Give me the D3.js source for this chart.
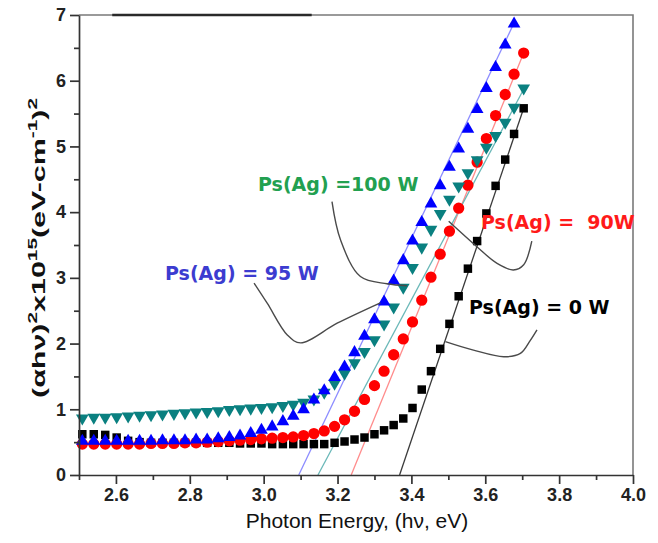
<!DOCTYPE html>
<html>
<head>
<meta charset="utf-8">
<script src="https://cdn.jsdelivr.net/npm/d3@7"></script>
<style>
  body { margin: 0; background: #fff; }
  svg text { font-family: "Liberation Sans", Arial, sans-serif; }
</style>
</head>
<body>
<div id="chart"></div>
<script>
// photon energy (eV), shared by every series
var energy = [2.509, 2.540, 2.571, 2.602, 2.633, 2.664, 2.695, 2.726, 2.757, 2.787,
              2.817, 2.847, 2.877, 2.907, 2.936, 2.965, 2.994, 3.023, 3.052, 3.080,
              3.108, 3.136, 3.164, 3.192, 3.219, 3.246, 3.273, 3.300, 3.326, 3.352,
              3.378, 3.403, 3.428, 3.453, 3.478, 3.503, 3.528, 3.553, 3.578, 3.603,
              3.628, 3.654, 3.678, 3.704];

// (alpha h nu)^2 x 10^15
var p0W = [0.62, 0.62, 0.61, 0.57, 0.52, 0.50, 0.49, 0.49, 0.49, 0.49,
           0.49, 0.49, 0.49, 0.49, 0.48, 0.48, 0.48, 0.47, 0.47, 0.47,
           0.47, 0.47, 0.47, 0.49, 0.51, 0.54, 0.57, 0.62, 0.68, 0.76,
           0.86, 1.02, 1.30, 1.58, 1.92, 2.30, 2.72, 3.14, 3.56, 3.98,
           4.40, 4.80, 5.19, 5.58];
var p90W = [0.47, 0.47, 0.47, 0.47, 0.47, 0.47, 0.48, 0.48, 0.48, 0.49,
            0.49, 0.50, 0.51, 0.52, 0.53, 0.54, 0.55, 0.56, 0.57, 0.58,
            0.60, 0.63, 0.67, 0.74, 0.84, 0.97, 1.15, 1.36, 1.58, 1.83,
            2.07, 2.33, 2.66, 3.01, 3.36, 3.71, 4.06, 4.41, 4.76, 5.12,
            5.47, 5.79, 6.10, 6.42];
var p95W = [0.53, 0.53, 0.53, 0.53, 0.53, 0.53, 0.53, 0.54, 0.54, 0.54,
            0.55, 0.55, 0.57, 0.59, 0.61, 0.65, 0.70, 0.75, 0.83, 0.91,
            1.01, 1.16, 1.30, 1.50, 1.66, 1.88, 2.13, 2.38, 2.65, 2.97,
            3.28, 3.58, 3.86, 4.14, 4.42, 4.70, 4.98, 5.28, 5.58, 5.90,
            6.22, 6.56, 6.88, null];
var p100W = [0.85, 0.86, 0.86, 0.87, 0.88, 0.89, 0.90, 0.91, 0.92, 0.93,
             0.94, 0.95, 0.96, 0.98, 0.99, 1.00, 1.01, 1.02, 1.04, 1.06,
             1.09, 1.14, 1.24, 1.38, 1.53, 1.69, 1.86, 2.04, 2.28, 2.54,
             2.84, 3.14, 3.45, 3.72, 3.96, 4.18, 4.38, 4.58, 4.78, 4.97,
             5.15, 5.35, 5.58, 5.87];

var seriesLabels = ["Ps(Ag) = 0 W", "Ps(Ag) =  90W", "Ps(Ag) =100 W", "Ps(Ag) = 95 W"];
// extrapolated band gap where each tangent meets the energy axis
var bandGaps = [3.368, 3.237, 3.147, 3.095];

var xTicks = [2.6, 2.8, 3.0, 3.2, 3.4, 3.6, 3.8, 4.0];
var xMinorTicks = [2.5, 2.7, 2.9, 3.1, 3.3, 3.5, 3.7, 3.9];
var yTicks = [0, 1, 2, 3, 4, 5, 6, 7];
var yMinorTicks = [0.5, 1.5, 2.5, 3.5, 4.5, 5.5, 6.5];

// leader lines from each label to its curve, in data units [eV, value]
var leader0W = [[3.492, 2.03], [3.568, 1.90], [3.650, 1.80], [3.695, 1.85], [3.722, 2.05], [3.740, 2.21]];
var leader90W = [[3.501, 3.86], [3.578, 3.47], [3.632, 3.22], [3.676, 3.12], [3.704, 3.20], [3.726, 3.56]];
var leader100W = [[3.185, 4.16], [3.208, 3.58], [3.262, 3.02], [3.334, 2.91], [3.388, 2.88]];
var leader95W = [[2.974, 2.92], [3.010, 2.61], [3.064, 2.13], [3.100, 2.01], [3.199, 2.31], [3.316, 2.62]];

var width = 658, height = 543;

var svg = d3.select("#chart").append("svg")
  .attr("width", width)
  .attr("height", height);

var x = d3.scaleLinear().domain([2.5, 4.0]).range([79, 633]);
var y = d3.scaleLinear().domain([0, 7]).range([475, 15]);

var series = [
  { values: p0W,   color: "#000000", tangent: "#3a3a3a", symbol: d3.symbolSquare,   size: 72,  rotate: 0,   label: seriesLabels[0], gap: bandGaps[0] },
  { values: p90W,  color: "#ff0000", tangent: "#ff8c8c", symbol: d3.symbolCircle,   size: 100, rotate: 0,   label: seriesLabels[1], gap: bandGaps[1] },
  { values: p100W, color: "#0a8080", tangent: "#6ab8b8", symbol: d3.symbolTriangle, size: 70,  rotate: 180, label: seriesLabels[2], gap: bandGaps[2] },
  { values: p95W,  color: "#0000ff", tangent: "#8c8cff", symbol: d3.symbolTriangle, size: 70,  rotate: 0,   label: seriesLabels[3], gap: bandGaps[3] }
];

series.forEach(function(s) {
  s.points = energy.map(function(e, i) { return { e: e, v: s.values[i] }; })
    .filter(function(p) { return p.v != null; });
});

// frame: top and right
svg.append("path")
  .attr("d", "M" + x(2.5) + "," + y(7) + "H" + x(4.0) + "V" + y(0))
  .attr("fill", "none")
  .attr("stroke", "#7a7a7a")
  .attr("stroke-width", 1.6);
svg.append("line")
  .attr("x1", x(2.59)).attr("x2", x(3.13))
  .attr("y1", y(7)).attr("y2", y(7))
  .attr("stroke", "#2a2a2a")
  .attr("stroke-width", 2.4);

// tangent lines
var line = d3.line()
  .x(function(d) { return x(d.e); })
  .y(function(d) { return y(d.v); });

svg.append("g").attr("class", "tangents")
  .selectAll("path")
  .data(series)
  .enter()
  .append("path")
  .attr("d", function(s) {
    var last = s.points[s.points.length - 1];
    return line([{ e: s.gap, v: 0 }, last]);
  })
  .attr("fill", "none")
  .attr("stroke", function(s) { return s.tangent; })
  .attr("stroke-width", 1.3);

// markers
var groups = svg.append("g").attr("class", "series")
  .selectAll("g")
  .data(series)
  .enter()
  .append("g")
  .attr("fill", function(s) { return s.color; });

groups.selectAll("path")
  .data(function(s) { return s.points.map(function(p) { return { p: p, s: s }; }); })
  .enter()
  .append("path")
  .attr("d", function(d) { return d3.symbol().type(d.s.symbol).size(d.s.size)(); })
  .attr("transform", function(d) {
    var dy = d.s.rotate ? -1 : (d.s.symbol === d3.symbolTriangle ? 1 : 0);
    return "translate(" + x(d.p.e) + "," + (y(d.p.v) + dy) + ") rotate(" + d.s.rotate + ")";
  });

// axes
var xAxis = d3.axisBottom(x).tickValues(xTicks).tickSize(9).tickSizeOuter(0).tickPadding(4)
  .tickFormat(d3.format(".1f"));
var xMinor = d3.axisBottom(x).tickValues(xMinorTicks).tickSize(5).tickFormat("");
var yAxis = d3.axisLeft(y).tickValues(yTicks).tickSize(9).tickSizeOuter(0).tickPadding(4)
  .tickFormat(d3.format("d"));
var yMinor = d3.axisLeft(y).tickValues(yMinorTicks).tickSize(5).tickFormat("");

svg.append("g").attr("transform", "translate(0," + y(0) + ")").call(xAxis);
svg.append("g").attr("transform", "translate(0," + y(0) + ")").call(xMinor)
  .select(".domain").remove();
svg.append("g").attr("transform", "translate(" + x(2.5) + ",0)").call(yAxis);
svg.append("g").attr("transform", "translate(" + x(2.5) + ",0)").call(yMinor)
  .select(".domain").remove();

svg.selectAll(".domain, .tick line")
  .attr("stroke", "#333")
  .attr("stroke-width", 1.7);
svg.selectAll(".tick text")
  .attr("fill", "#222")
  .style("font-size", "18px")
  .style("font-weight", "bold");

// axis titles
svg.append("text")
  .attr("x", 357)
  .attr("y", 528)
  .attr("text-anchor", "middle")
  .attr("fill", "#111")
  .style("font-size", "21px")
  .text("Photon Energy, (h\u03bd, eV)");

var yTitle = svg.append("text")
  .attr("transform", "translate(45,248) rotate(-90)")
  .attr("text-anchor", "middle")
  .attr("textLength", 300)
  .attr("lengthAdjust", "spacingAndGlyphs")
  .attr("fill", "#111")
  .style("font-size", "19px")
  .style("font-weight", "bold");
yTitle.append("tspan").text("(\u03b1h\u03bd)");
yTitle.append("tspan").attr("dy", -8).style("font-size", "13px").text("2");
yTitle.append("tspan").attr("dy", 8).text("x10");
yTitle.append("tspan").attr("dy", -8).style("font-size", "13px").text("15");
yTitle.append("tspan").attr("dy", 8).text("(eV-cm");
yTitle.append("tspan").attr("dy", -8).style("font-size", "13px").text("-1");
yTitle.append("tspan").attr("dy", 8).text(")");
yTitle.append("tspan").attr("dy", -8).style("font-size", "13px").text("2");

// leader lines
var leader = d3.line()
  .x(function(d) { return x(d[0]); })
  .y(function(d) { return y(d[1]); })
  .curve(d3.curveCatmullRom);

svg.append("g").attr("class", "leaders")
  .selectAll("path")
  .data([leader0W, leader90W, leader100W, leader95W])
  .enter()
  .append("path")
  .attr("d", leader)
  .attr("fill", "none")
  .attr("stroke", "#4a4a4a")
  .attr("stroke-width", 1.4);

// series labels
var labels = [
  { text: seriesLabels[0], x: 469, y: 314, color: "#000000" },
  { text: seriesLabels[1], x: 481, y: 229, color: "#ff1a1a" },
  { text: seriesLabels[2], x: 258, y: 191, color: "#22a050" },
  { text: seriesLabels[3], x: 165, y: 280, color: "#3c3cd0" }
];
svg.append("g").attr("class", "labels")
  .selectAll("text")
  .data(labels)
  .enter()
  .append("text")
  .attr("x", function(d) { return d.x; })
  .attr("y", function(d) { return d.y; })
  .attr("fill", function(d) { return d.color; })
  .style("font-family", "'DejaVu Sans', Verdana, sans-serif")
  .style("font-size", "19px")
  .style("font-weight", "bold")
  .style("white-space", "pre")
  .text(function(d) { return d.text; });
</script>
</body>
</html>
